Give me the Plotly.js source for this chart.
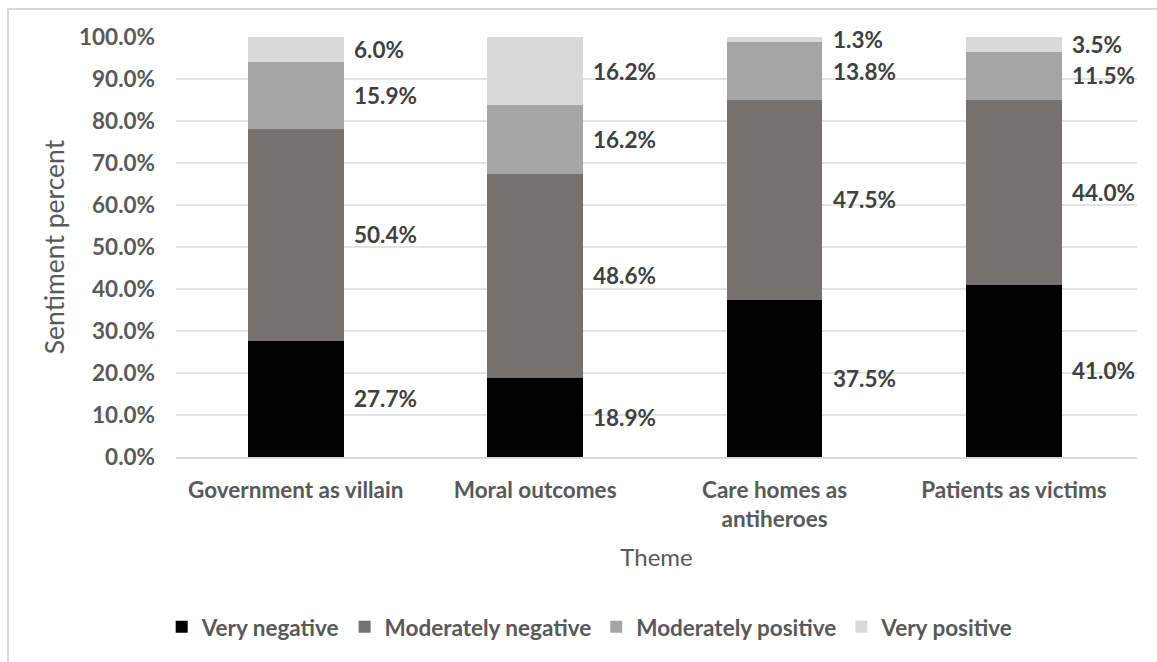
<!DOCTYPE html>
<html>
<head>
<meta charset="utf-8">
<script src="https://cdn.plot.ly/plotly-3.0.1.min.js"></script>
<style>
  html, body { margin: 0; padding: 0; background: #ffffff; }
  #frame { position: absolute; left: 7px; top: 8px; width: 1200px; height: 700px; border: 2px solid #d9d9d9; box-sizing: border-box; }
  #chart { position: absolute; left: 0; top: 0; width: 1157px; height: 662px; }
</style>
</head>
<body>
<div id="frame"></div>
<div id="chart"></div>
<script>
const categories = ["Government as villain", "Moral outcomes", "Care homes as<br>antiheroes", "Patients as victims"];
const seriesNames = ["Very negative", "Moderately negative", "Moderately positive", "Very positive"];
const veryNegative = [27.7, 18.9, 37.5, 41.0];
const moderatelyNegative = [50.4, 48.6, 47.5, 44.0];
const moderatelyPositive = [15.9, 16.2, 13.8, 11.5];
const veryPositive = [6.0, 16.2, 1.3, 3.5];
const seriesColors = ["#000000", "#767171", "#a5a5a5", "#d9d9d9"];
const yTickValues = [0, 0.1, 0.2, 0.3, 0.4, 0.5, 0.6, 0.7, 0.8, 0.9, 1.0];

const series = [veryNegative, moderatelyNegative, moderatelyPositive, veryPositive];
const FONT = "Lato, 'Open Sans', sans-serif";
const TXT = "#595959";
const BOLD = 22.5;

const traces = series.map((vals, i) => ({
  type: "bar",
  name: seriesNames[i],
  x: categories,
  y: vals.map(v => v / 100),
  marker: { color: seriesColors[i], line: { width: 0 } },
  hoverinfo: "skip"
}));

const annotations = [];
const cum = categories.map(() => 0);
series.forEach((vals) => {
  vals.forEach((v, j) => {
    annotations.push({
      x: categories[j], xref: "x",
      y: (cum[j] + v / 2) / 100, yref: "y",
      text: v.toFixed(1) + "%",
      showarrow: false,
      xanchor: "left", yanchor: "middle",
      xshift: 56,
      font: { family: FONT, size: BOLD, color: "#404040", weight: 700 }
    });
    cum[j] += v;
  });
});

const layout = {
  width: 1157, height: 662,
  margin: { l: 176, r: 20, t: 37, b: 205 },
  paper_bgcolor: "rgba(0,0,0,0)",
  plot_bgcolor: "rgba(0,0,0,0)",
  barmode: "stack",
  bargap: 0.6,
  showlegend: true,
  font: { family: FONT, color: TXT },
  xaxis: {
    type: "category",
    showgrid: false,
    showline: true, linecolor: "#d9d9d9", linewidth: 2,
    ticks: "",
    ticklabelstandoff: 12,
    tickfont: { family: FONT, size: BOLD, color: TXT, weight: 700 },
    title: { text: "Theme", font: { family: FONT, size: 24, color: TXT }, standoff: 18 },
    automargin: false
  },
  yaxis: {
    range: [0, 1],
    tickvals: yTickValues,
    tickformat: ".1%",
    showgrid: true, gridcolor: "#e3e3e3", gridwidth: 2,
    zeroline: false,
    showline: false,
    ticks: "",
    ticklabelstandoff: 20,
    tickfont: { family: FONT, size: BOLD, color: TXT, weight: 700 },
    title: { text: "Sentiment percent", font: { family: FONT, size: 26.5, color: TXT }, standoff: 6 },
    automargin: false
  },
  legend: {
    orientation: "h",
    x: 0.431, xanchor: "center",
    y: -0.405, yanchor: "middle",
    font: { family: FONT, size: BOLD, color: TXT, weight: 700 },
    itemclick: false, itemdoubleclick: false,
    traceorder: "normal"
  },
  annotations: annotations
};

Plotly.newPlot("chart", traces, layout, { displayModeBar: false, staticPlot: true });
</script>
</body>
</html>
